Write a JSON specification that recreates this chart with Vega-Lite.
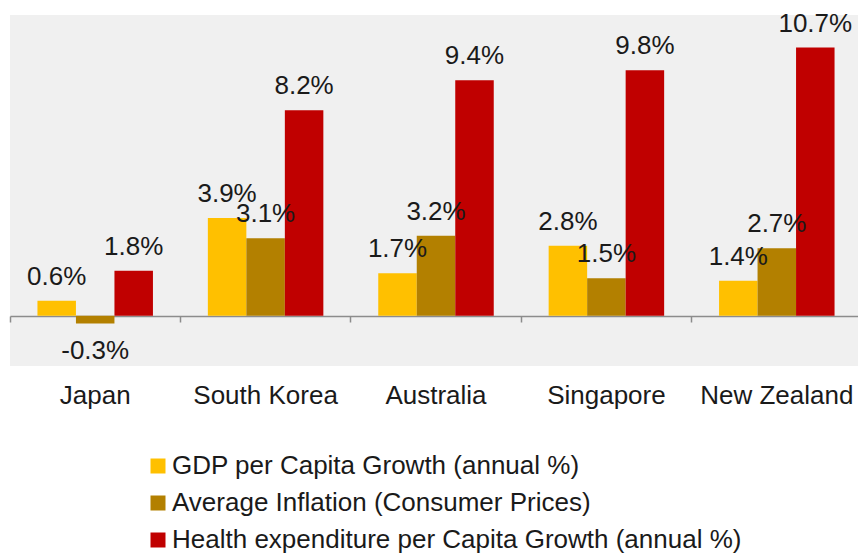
{
  "$schema": "https://vega.github.io/schema/vega-lite/v6.json",
  "autosize": {"type": "none"},
  "padding": {"left": 10, "top": 15, "right": 0, "bottom": 191},
  "width": 852,
  "height": 351,
  "config": {
    "view": {"fill": "#f0f0f0", "stroke": null},
    "font": "Liberation Sans"
  },
  "data": {
    "values": [
      {"country": "Japan", "series": "GDP per Capita Growth (annual %)", "value": 0.6},
      {"country": "Japan", "series": "Average Inflation (Consumer Prices)", "value": -0.3},
      {"country": "Japan", "series": "Health expenditure per Capita Growth (annual %)", "value": 1.8},
      {"country": "South Korea", "series": "GDP per Capita Growth (annual %)", "value": 3.9},
      {"country": "South Korea", "series": "Average Inflation (Consumer Prices)", "value": 3.1},
      {"country": "South Korea", "series": "Health expenditure per Capita Growth (annual %)", "value": 8.2},
      {"country": "Australia", "series": "GDP per Capita Growth (annual %)", "value": 1.7},
      {"country": "Australia", "series": "Average Inflation (Consumer Prices)", "value": 3.2},
      {"country": "Australia", "series": "Health expenditure per Capita Growth (annual %)", "value": 9.4},
      {"country": "Singapore", "series": "GDP per Capita Growth (annual %)", "value": 2.8},
      {"country": "Singapore", "series": "Average Inflation (Consumer Prices)", "value": 1.5},
      {"country": "Singapore", "series": "Health expenditure per Capita Growth (annual %)", "value": 9.8},
      {"country": "New Zealand", "series": "GDP per Capita Growth (annual %)", "value": 1.4},
      {"country": "New Zealand", "series": "Average Inflation (Consumer Prices)", "value": 2.7},
      {"country": "New Zealand", "series": "Health expenditure per Capita Growth (annual %)", "value": 10.7}
    ]
  },
  "transform": [
    {"calculate": "(datum.value < 0 ? '-' : '') + format(abs(datum.value), '.1f') + '%'", "as": "label"}
  ],
  "encoding": {
    "x": {
      "field": "country",
      "type": "nominal",
      "sort": ["Japan", "South Korea", "Australia", "Singapore", "New Zealand"],
      "scale": {"paddingInner": 0, "paddingOuter": 0},
      "axis": {
        "title": null,
        "orient": "bottom",
        "offset": -50,
        "bandPosition": 0,
        "labelAngle": 0,
        "labelFontSize": 26,
        "labelColor": "#1a1a1a",
        "labelPadding": 60,
        "labelAlign": "center",
        "domainColor": "#8c8c8c",
        "domainWidth": 1.5,
        "tickColor": "#8c8c8c",
        "tickWidth": 1.5,
        "tickSize": 6
      }
    },
    "xOffset": {
      "field": "series",
      "type": "nominal",
      "sort": ["GDP per Capita Growth (annual %)", "Average Inflation (Consumer Prices)", "Health expenditure per Capita Growth (annual %)"],
      "scale": {"paddingInner": 0, "paddingOuter": 0.713}
    },
    "y": {
      "field": "value",
      "type": "quantitative",
      "scale": {"domain": [-2, 12], "nice": false, "zero": false},
      "axis": null
    }
  },
  "layer": [
    {
      "mark": {"type": "bar"},
      "encoding": {
        "color": {
          "field": "series",
          "type": "nominal",
          "scale": {
            "domain": ["GDP per Capita Growth (annual %)", "Average Inflation (Consumer Prices)", "Health expenditure per Capita Growth (annual %)"],
            "range": ["#FFC000", "#B38000", "#C00000"]
          },
          "legend": {
            "title": null,
            "orient": "none",
            "legendX": 135,
            "legendY": 438,
            "direction": "vertical",
            "symbolType": "square",
            "symbolSize": 225,
            "symbolStrokeWidth": 0,
            "labelFontSize": 26,
            "labelColor": "#1a1a1a",
            "labelOffset": 1,
            "rowPadding": 11,
            "padding": 0,
            "labelLimit": 700
          }
        }
      }
    },
    {
      "transform": [{"filter": "datum.value >= 0"}],
      "mark": {"type": "text", "baseline": "alphabetic", "dy": -16, "fontSize": 26, "color": "#1a1a1a"},
      "encoding": {"text": {"field": "label"}}
    },
    {
      "transform": [{"filter": "datum.value < 0"}],
      "mark": {"type": "text", "baseline": "top", "dy": 15, "fontSize": 26, "color": "#1a1a1a"},
      "encoding": {"text": {"field": "label"}}
    }
  ]
}
